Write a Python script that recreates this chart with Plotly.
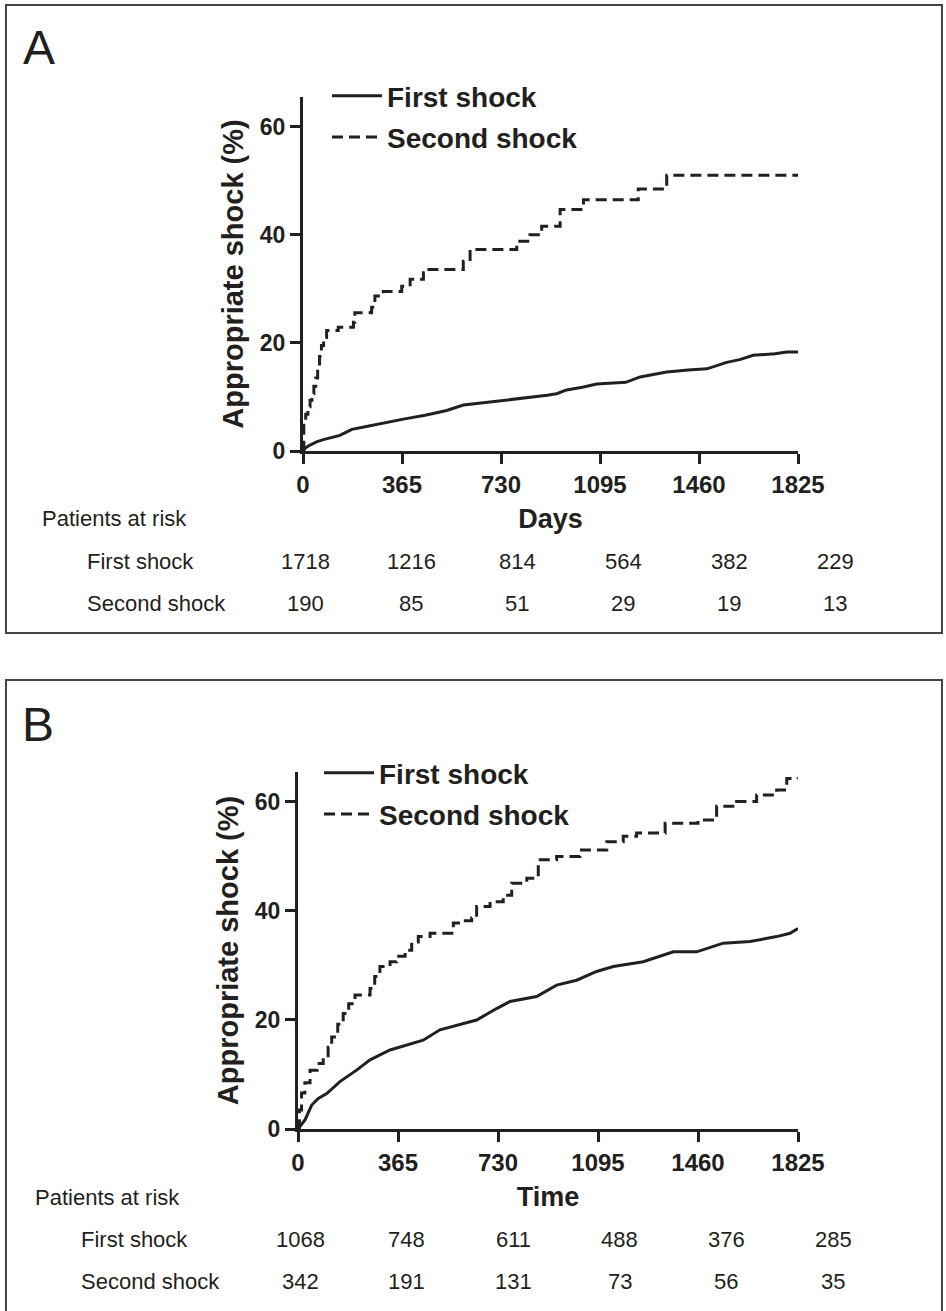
import plotly.graph_objects as go

# ---------------- data ----------------
day_ticks = [0, 365, 730, 1095, 1460, 1825]
pct_ticks = [0, 20, 40, 60]
series_names = ["First shock", "Second shock"]

# Panel A (x: days, y: cumulative appropriate shock %)
a_first_days = [0, 10, 26, 50, 75, 110, 136, 160, 180, 220, 259, 310, 370, 450, 530, 591, 660,
                739, 800, 849, 900, 935, 972, 1030, 1083, 1190, 1243, 1341, 1420, 1489, 1562,
                1610, 1660, 1740, 1783, 1825]
a_first_pct = [0, 0.6, 1.1, 1.7, 2.1, 2.5, 2.9, 3.5, 4.0, 4.4, 4.8, 5.3, 5.9, 6.6, 7.5, 8.5, 8.9,
               9.3, 9.6, 10.0, 10.3, 10.6, 11.3, 11.8, 12.4, 12.7, 13.7, 14.6, 15.0, 15.2, 16.4,
               16.9, 17.7, 18.0, 18.3, 18.3]

a_second_days = [0, 3, 10, 18, 26, 33, 40, 47, 54, 61, 68, 76, 87, 130, 186, 191, 253, 265, 296,
                 364, 395, 444, 456, 591, 616, 788, 837, 880, 948, 1034, 1236, 1341, 1825]
a_second_pct = [0, 5.7, 6.8, 8.2, 9.4, 10.6, 12.0, 13.5, 15.5, 17.5, 19.5, 21.0, 22.3, 22.9, 23.8,
                25.6, 26.6, 28.7, 29.5, 30.5, 31.8, 33.0, 33.6, 35.1, 37.3, 38.8, 40.0, 41.6, 44.7,
                46.5, 48.5, 51.0, 51.0]

a_risk_first = [1718, 1216, 814, 564, 382, 229]
a_risk_second = [190, 85, 51, 29, 19, 13]

# Panel B (x: time, days)
b_first_days = [0, 13, 26, 50, 74, 105, 130, 153, 214, 263, 336, 397, 457, 518, 603, 652, 725,
                774, 871, 944, 1017, 1090, 1151, 1260, 1370, 1455, 1552, 1650, 1747, 1796, 1825]
b_first_pct = [0, 0.8, 1.7, 4.4, 5.6, 6.5, 7.6, 8.7, 10.8, 12.7, 14.5, 15.4, 16.3, 18.2, 19.4, 20.0,
               22.1, 23.4, 24.3, 26.4, 27.3, 28.9, 29.8, 30.7, 32.5, 32.5, 34.1, 34.4, 35.3, 35.9, 36.8]

b_second_days = [0, 5, 13, 25, 44, 70, 92, 110, 123, 145, 165, 185, 208, 263, 280, 299, 336, 360,
                 391, 415, 439, 482, 567, 600, 634, 652, 701, 749, 780, 835, 877, 944, 1029, 1127,
                 1187, 1236, 1340, 1460, 1528, 1601, 1674, 1747, 1784, 1825]
b_second_pct = [0, 3.5, 6.6, 8.5, 10.8, 12.0, 13.0, 15.0, 16.9, 19.2, 21.2, 23.0, 24.6, 25.8, 28.0,
                29.8, 30.7, 31.7, 32.8, 34.3, 35.3, 35.9, 37.8, 38.2, 38.7, 40.8, 41.7, 42.9, 45.1,
                46.0, 49.4, 50.0, 51.2, 52.7, 53.7, 54.3, 56.1, 56.7, 59.2, 60.1, 61.3, 62.2, 64.3, 64.5]

b_risk_first = [1068, 748, 611, 488, 376, 285]
b_risk_second = [342, 191, 131, 73, 56, 35]

# ---------------- layout helpers ----------------
W, H = 946, 1311
INK = "#231f20"
FONT = "Arial, Liberation Sans, Helvetica, sans-serif"
DASH = "11px,6px"


def px(x):
    return x / W


def py(y):
    return 1 - y / H


fig = go.Figure()

panels = [
    dict(xa="x", ya="y", lg="legend", first=(a_first_days, a_first_pct),
         second=(a_second_days, a_second_pct)),
    dict(xa="x2", ya="y2", lg="legend2", first=(b_first_days, b_first_pct),
         second=(b_second_days, b_second_pct)),
]
for p in panels:
    fig.add_trace(go.Scatter(x=p["first"][0], y=p["first"][1], mode="lines",
                             name=series_names[0], xaxis=p["xa"], yaxis=p["ya"], legend=p["lg"],
                             legendgroup=p["lg"] + "a",
                             line=dict(color=INK, width=3, shape="linear")))
    fig.add_trace(go.Scatter(x=p["second"][0], y=p["second"][1], mode="lines",
                             name=series_names[1], xaxis=p["xa"], yaxis=p["ya"], legend=p["lg"],
                             legendgroup=p["lg"] + "b",
                             line=dict(color=INK, width=3, shape="hv", dash=DASH)))

tickfont = dict(family=FONT, size=24, color=INK, weight="bold")
titlefont = dict(family=FONT, size=27, color=INK, weight="bold")


def xaxis_cfg(x0, x1, anchor, title):
    return dict(domain=[px(x0), px(x1)], range=[0, 1825], anchor=anchor,
                tickmode="array", tickvals=day_ticks, ticktext=[str(d) for d in day_ticks],
                ticks="outside", ticklen=10, tickwidth=3, tickcolor=INK,
                showline=True, linewidth=3, linecolor=INK, showgrid=False, zeroline=False,
                tickfont=tickfont, title=dict(text=title, font=titlefont, standoff=13),
                fixedrange=True)


def yaxis_cfg(y0, y1, anchor):
    return dict(domain=[py(y0), py(y1)], range=[0, 65.5], anchor=anchor,
                tickmode="array", tickvals=pct_ticks,
                ticks="outside", ticklen=10, tickwidth=3, tickcolor=INK,
                showline=True, linewidth=3, linecolor=INK, showgrid=False, zeroline=False,
                tickfont=dict(family=FONT, size=23, color=INK, weight="bold"),
                title=dict(text="Appropriate shock (%)",
                           font=dict(family=FONT, size=29, color=INK, weight="bold"),
                           standoff=8),
                fixedrange=True)


legend_common = dict(xanchor="left", yanchor="top", bgcolor="rgba(0,0,0,0)",
                     font=dict(family=FONT, size=28, color=INK, weight="bold"),
                     tracegroupgap=2, itemwidth=50)

fig.update_layout(
    width=W, height=H, margin=dict(l=0, r=0, t=0, b=0, autoexpand=False),
    paper_bgcolor="white", plot_bgcolor="white",
    font=dict(family=FONT, color=INK),
    xaxis=xaxis_cfg(303, 798, "y", "Days"),
    yaxis=yaxis_cfg(451, 97, "x"),
    xaxis2=xaxis_cfg(298, 798, "y2", "Time"),
    yaxis2=yaxis_cfg(1129, 772, "x2"),
    legend=dict(x=px(327), y=py(71), **legend_common),
    legend2=dict(x=px(319), y=py(748), **legend_common),
    showlegend=True,
)

# panel frames
shapes = [
    dict(type="rect", xref="paper", yref="paper", x0=px(6), x1=px(942), y0=py(633), y1=py(5),
         line=dict(color="#444", width=2)),
    dict(type="rect", xref="paper", yref="paper", x0=px(6), x1=px(942), y0=py(1330), y1=py(680),
         line=dict(color="#444", width=2)),
]
fig.update_layout(shapes=shapes)

annots = []


def text(x, y, s, size=22, xanchor="left", bold=False):
    annots.append(dict(x=px(x), y=py(y), xref="paper", yref="paper", text=s, showarrow=False,
                       xanchor=xanchor, yanchor="middle",
                       font=dict(family=FONT, size=size, color=INK,
                                 weight="bold" if bold else "normal")))


# panel letters
text(39, 48, "A", size=48, xanchor="center")
text(38, 724, "B", size=48, xanchor="center")

# numbers at risk tables
tables = [
    dict(top=519, left=40, label_left=85, col0=305, step=106, rows=[a_risk_first, a_risk_second]),
    dict(top=1197, left=33, label_left=79, col0=300, step=106.6, rows=[b_risk_first, b_risk_second]),
]
for t in tables:
    text(t["left"], t["top"], "Patients at risk")
    for r, (name, values) in enumerate(zip(series_names, t["rows"])):
        yrow = t["top"] + 42 * (r + 1)
        text(t["label_left"], yrow, name)
        for i, v in enumerate(values):
            text(t["col0"] + i * t["step"], yrow, str(v), xanchor="center")

fig.update_layout(annotations=annots)

fig.write_html("out.html")
